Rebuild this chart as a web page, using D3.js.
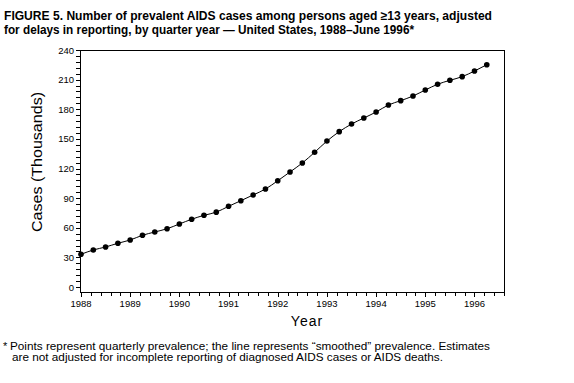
<!DOCTYPE html>
<html><head><meta charset="utf-8">
<script src="https://cdn.jsdelivr.net/npm/d3@7"></script>
<style>
body{margin:0;background:#fff;}
svg{display:block;font-family:"Liberation Sans",Arial,sans-serif;}
</style></head>
<body><svg id="c" width="574" height="383"></svg>
<script>
const quarters = d3.range(0, 34).map(i => 1988 + i * 0.25);
const cases = [33.1,37.5,40.5,44.3, 47.6,52.4,55.7,59.0, 63.8,68.6,72.6,75.8,
  81.7,87.4,93.2,99.2, 107.6,116.5,125.6,136.4, 147.8,157.3,165.0,171.1,
  177.2,184.3,188.7,193.4, 199.5,205.3,209.3,213.0, 218.7,225.1];
const xTickYears = [1988,1989,1990,1991,1992,1993,1994,1995,1996];
const yTickValues = [0,30,60,90,120,150,180,210,240];
const titleLines = ["FIGURE 5. Number of prevalent AIDS cases among persons aged \u226513 years, adjusted",
  "for delays in reporting, by quarter year \u2014 United States, 1988\u2013June 1996*"];
const footLines = ["Points represent quarterly prevalence; the line represents \u201csmoothed\u201d prevalence. Estimates",
  "are not adjusted for incomplete reporting of diagnosed AIDS cases or AIDS deaths."];

const svg = d3.select("#c");
const x = d3.scaleLinear().domain([1988, 1996.6]).range([81, 504]);
const y = d3.scaleLinear().domain([0, 240]).range([287, 50]);

// title
svg.append("text").attr("x", 4).attr("y", 20).attr("font-size", 12.5).attr("font-weight", "bold")
  .attr("textLength", 488).attr("lengthAdjust", "spacingAndGlyphs").text(titleLines[0]);
svg.append("text").attr("x", 4).attr("y", 34).attr("font-size", 12.5).attr("font-weight", "bold")
  .attr("textLength", 410).attr("lengthAdjust", "spacingAndGlyphs").text(titleLines[1]);

// frame
svg.append("line").attr("x1", 80).attr("x2", 504).attr("y1", 50.5).attr("y2", 50.5).attr("stroke", "#000");
svg.append("line").attr("x1", 504.5).attr("x2", 504.5).attr("y1", 50).attr("y2", 292).attr("stroke", "#000");
svg.append("line").attr("x1", 80.5).attr("x2", 80.5).attr("y1", 50).attr("y2", 292).attr("stroke", "#000");
svg.append("line").attr("x1", 80).attr("x2", 505).attr("y1", 292.5).attr("y2", 292.5).attr("stroke", "#000");

// y axis ticks
const yMinor = d3.range(0, 241, 6);
svg.append("g").selectAll("line").data(yMinor).join("line")
  .attr("x1", 76).attr("x2", 80).attr("y1", d => Math.round(y(d)) + 0.5).attr("y2", d => Math.round(y(d)) + 0.5)
  .attr("stroke", "#000");
svg.append("g").selectAll("text").data(yTickValues).join("text")
  .attr("x", 74).attr("y", d => y(d) + 3.5).attr("text-anchor", "end").attr("font-size", 9.5)
  .text(d => d);

// x axis ticks
const xMinor = d3.range(0, 44).map(i => 1988 + i * 0.2);
svg.append("g").selectAll("line").data(xMinor).join("line")
  .attr("x1", d => Math.round(x(d)) + 0.5).attr("x2", d => Math.round(x(d)) + 0.5)
  .attr("y1", 292).attr("y2", d => Math.abs(d - Math.round(d)) < 1e-6 ? 297 : 296)
  .attr("stroke", "#000");
svg.append("g").selectAll("text").data(xTickYears).join("text")
  .attr("x", d => x(d)).attr("y", 307).attr("text-anchor", "middle").attr("font-size", 9.5)
  .text(d => d);

// axis titles
svg.append("text").attr("transform", "translate(42,162) rotate(-90)").attr("text-anchor", "middle")
  .attr("font-size", 14).attr("textLength", 140).attr("lengthAdjust", "spacingAndGlyphs").text("Cases (Thousands)");
svg.append("text").attr("x", 307).attr("y", 326).attr("text-anchor", "middle").attr("font-size", 14)
  .attr("letter-spacing", 1).text("Year");

// line and points
const data = quarters.map((q, i) => ({q, v: cases[i]}));
const lineGen = d3.line().x(d => x(d.q)).y(d => y(d.v)).curve(d3.curveMonotoneX);
svg.append("path").datum(data).attr("fill", "none").attr("stroke", "#000").attr("stroke-width", 1)
  .attr("d", lineGen);
svg.append("g").selectAll("circle").data(data).join("circle")
  .attr("cx", d => x(d.q)).attr("cy", d => y(d.v)).attr("r", 2.8).attr("fill", "#000");

// footnote
svg.append("text").attr("x", 3).attr("y", 350).attr("font-size", 11).text("*");
svg.append("text").attr("x", 10).attr("y", 350).attr("font-size", 11)
  .attr("textLength", 480).attr("lengthAdjust", "spacingAndGlyphs").text(footLines[0]);
svg.append("text").attr("x", 12).attr("y", 361).attr("font-size", 11)
  .attr("textLength", 431).attr("lengthAdjust", "spacingAndGlyphs").text(footLines[1]);
</script></body></html>
